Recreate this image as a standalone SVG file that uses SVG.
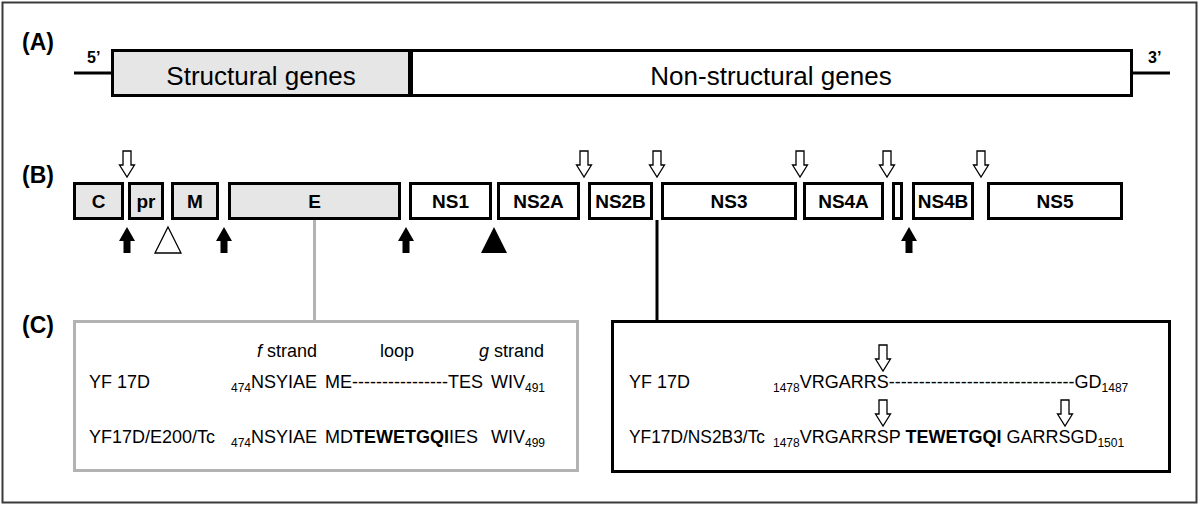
<svg xmlns="http://www.w3.org/2000/svg" width="1200" height="505" viewBox="0 0 1200 505">
<defs>
<path id="openDown" d="M-4,0 H4 V14 H7.5 L0,26 L-7.5,14 H-4 Z"/>
<path id="solidUp" d="M0,0 L8,14 H3.5 V26 H-3.5 V14 H-8 Z"/>
</defs>
<style>
text{font-family:"Liberation Sans",Arial,sans-serif;fill:#000}
.seq{font-size:18px}
.sub{font-size:12px}
.lbl{font-weight:bold;font-size:23px}
.end{font-weight:bold;font-size:16px}
.big{font-size:26px;text-anchor:middle}
.gene{fill:#e6e6e6;stroke:#000;stroke-width:3}
.ns{fill:#fff;stroke:#000;stroke-width:3}
.bt{font-weight:bold;font-size:19px;text-anchor:middle}
.oa{fill:#fff;stroke:#000;stroke-width:1.3}
.sa{fill:#000}
.b{font-weight:bold}
.i{font-style:italic}
</style>
<rect x="2.5" y="2.5" width="1194" height="500" fill="#fff" stroke="#3a3a3a" stroke-width="2"/>

<g id="labels">
<text class="lbl" x="22" y="50">(A)</text>
<text class="lbl" x="22" y="183">(B)</text>
<text class="lbl" x="22" y="333">(C)</text>
</g>

<g id="panelA">
<line x1="74" y1="73" x2="112" y2="73" stroke="#000" stroke-width="3"/>
<line x1="1132" y1="73" x2="1170" y2="73" stroke="#000" stroke-width="3"/>
<text class="end" x="87" y="63">5’</text>
<text class="end" x="1148" y="63">3’</text>
<g id="nonstructural">
<rect class="ns" x="411.5" y="50.5" width="720" height="45"/>
<text class="big" x="771" y="85">Non-structural genes</text>
</g>
<g id="structural">
<rect class="gene" x="112.5" y="50.5" width="297" height="45"/>
<text class="big" x="261" y="85">Structural genes</text>
</g>
</g>

<g id="panelB">
<g id="C"><rect class="gene" x="74.5" y="183.5" width="48" height="35"/><text class="bt" x="98.5" y="208">C</text></g>
<g id="pr"><rect class="gene" x="129.5" y="183.5" width="33" height="35"/><text class="bt" x="146" y="208">pr</text></g>
<g id="M"><rect class="gene" x="172.5" y="183.5" width="45" height="35"/><text class="bt" x="195" y="208">M</text></g>
<g id="E"><rect class="gene" x="229.5" y="183.5" width="170" height="35"/><text class="bt" x="314.5" y="208">E</text></g>
<g id="NS1"><rect class="ns" x="410.5" y="183.5" width="80" height="35"/><text class="bt" x="450.5" y="208">NS1</text></g>
<g id="NS2A"><rect class="ns" x="498.5" y="183.5" width="80" height="35"/><text class="bt" x="538.5" y="208">NS2A</text></g>
<g id="NS2B"><rect class="ns" x="589.5" y="183.5" width="62" height="35"/><text class="bt" x="620.5" y="208">NS2B</text></g>
<g id="NS3"><rect class="ns" x="662.5" y="183.5" width="133" height="35"/><text class="bt" x="729" y="208">NS3</text></g>
<g id="NS4A"><rect class="ns" x="804.5" y="183.5" width="78" height="35"/><text class="bt" x="843.5" y="208">NS4A</text></g>
<g id="2K"><rect class="ns" x="893.5" y="183.5" width="8" height="35"/></g>
<g id="NS4B"><rect class="ns" x="913.5" y="183.5" width="59" height="35"/><text class="bt" x="943" y="208">NS4B</text></g>
<g id="NS5"><rect class="ns" x="988.5" y="183.5" width="133" height="35"/><text class="bt" x="1055" y="208">NS5</text></g>

<g id="openArrowsB">
<use href="#openDown" class="oa" x="127" y="151"/>
<use href="#openDown" class="oa" x="584" y="151"/>
<use href="#openDown" class="oa" x="657" y="151"/>
<use href="#openDown" class="oa" x="800" y="151"/>
<use href="#openDown" class="oa" x="887" y="151"/>
<use href="#openDown" class="oa" x="981" y="151"/>
</g>
<g id="solidArrowsB">
<use href="#solidUp" class="sa" x="127" y="227"/>
<use href="#solidUp" class="sa" x="224" y="227"/>
<use href="#solidUp" class="sa" x="406" y="227"/>
<use href="#solidUp" class="sa" x="909" y="227"/>
</g>
<polygon points="168,227 181,253 155,253" fill="#fff" stroke="#000" stroke-width="1.3"/>
<polygon points="494,227 507,253 481,253" fill="#000"/>
</g>

<g id="connectors">
<line x1="314.5" y1="220" x2="314.5" y2="321" stroke="#b3b3b3" stroke-width="3"/>
<line x1="657" y1="220" x2="657" y2="321" stroke="#000" stroke-width="3"/>
</g>

<g id="panelC-left">
<rect x="74.5" y="321.5" width="503" height="149" fill="none" stroke="#b3b3b3" stroke-width="3"/>
<text class="seq" x="257" y="357"><tspan class="i">f</tspan> strand</text>
<text class="seq" x="380" y="357">loop</text>
<text class="seq" x="479" y="357"><tspan class="i">g</tspan> strand</text>
<text class="seq" x="89" y="388">YF 17D</text>
<text class="seq" x="231" y="388"><tspan class="sub" dy="4">474</tspan><tspan dy="-4">NSYIAE</tspan></text>
<text class="seq" x="325" y="388">ME----------------TES</text>
<text class="seq" x="491" y="388">WIV<tspan class="sub" dy="4">491</tspan></text>
<text class="seq" x="89" y="443">YF17D/E200/Tc</text>
<text class="seq" x="231" y="443"><tspan class="sub" dy="4">474</tspan><tspan dy="-4">NSYIAE</tspan></text>
<text class="seq" x="325" y="443">MD<tspan class="b">TEWETGQI</tspan>IES</text>
<text class="seq" x="491" y="443">WIV<tspan class="sub" dy="4">499</tspan></text>
</g>

<g id="panelC-right">
<rect x="612.5" y="321.5" width="557" height="150" fill="none" stroke="#000" stroke-width="3"/>
<use href="#openDown" class="oa" x="883" y="345"/>
<use href="#openDown" class="oa" x="883" y="400"/>
<use href="#openDown" class="oa" x="1065" y="400"/>
<text class="seq" x="629" y="388">YF 17D</text>
<text class="seq" x="773" y="388"><tspan class="sub" dy="4">1478</tspan><tspan dy="-4">VRGARRS-------------------------------GD</tspan><tspan class="sub" dy="4">1487</tspan></text>
<text class="seq" x="629" y="443" textLength="136" lengthAdjust="spacingAndGlyphs">YF17D/NS2B3/Tc</text>
<text class="seq" x="773" y="443"><tspan class="sub" dy="4">1478</tspan><tspan dy="-4">VRGARRSP </tspan><tspan class="b">TEWETGQI</tspan><tspan> GARRSGD</tspan><tspan class="sub" dy="4">1501</tspan></text>
</g>
</svg>
